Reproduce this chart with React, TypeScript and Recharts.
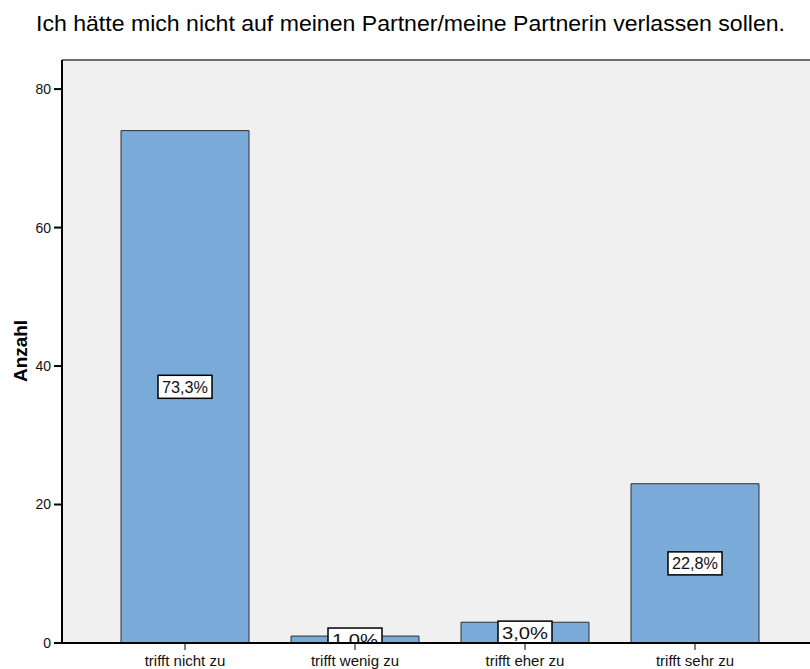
import React from 'react';
import { BarChart, Bar, XAxis, YAxis, CartesianGrid, ReferenceLine, LabelList } from 'recharts';

const categories = ['trifft nicht zu', 'trifft wenig zu', 'trifft eher zu', 'trifft sehr zu'];
const counts = [74, 1, 3, 23];
const percentLabels = ['73,3%', '1,0%', '3,0%', '22,8%'];
const yTicks = [0, 20, 40, 60, 80];
const yMax = 84.2;

const titleText = 'Ich hätte mich nicht auf meinen Partner/meine Partnerin verlassen sollen.';
const yAxisTitle = 'Anzahl';

const data = categories.map((c, i) => ({ name: c, count: counts[i], pct: percentLabels[i] }));

const FONT = '"Liberation Sans", Arial, sans-serif';

const PctLabel = (props: any) => {
  const { x, y, width, height, value, index } = props;
  const cx = x + width / 2;
  const cy = y + height / 2;
  const base = y + height;
  const w = 54;
  const h = 23;
  const id = `pct-clip-${index}`;
  return (
    <g>
      <defs>
        <clipPath id={id}>
          <rect x={cx - w} y={cy - h} width={w * 2} height={base - (cy - h) - 1} />
        </clipPath>
      </defs>
      <g clipPath={`url(#${id})`}>
        <rect x={cx - w / 2} y={cy - h / 2} width={w} height={h} fill="#ffffff" stroke="#000" strokeWidth={1.5} />
        <text x={cx} y={cy + 6} textAnchor="middle" fontFamily={FONT} fontSize={16} fill="#111"
          textLength={46} lengthAdjust="spacingAndGlyphs">{value}</text>
      </g>
    </g>
  );
};

export default function App() {
  return (
    <div style={{ position: 'absolute', left: 0, top: 0, width: 810, height: 669, overflow: 'hidden', background: '#fff' }}>
      <BarChart width={830} height={669} data={data} margin={{ top: 60, right: 10, bottom: 0, left: 0 }}>
        <CartesianGrid fill="#f0f0f0" stroke="none" horizontal={false} vertical={false} />
        <ReferenceLine y={yMax} stroke="#6e6e6e" strokeWidth={2} />
        <XAxis dataKey="name" padding={{ left: 38, right: 40 }} height={26}
          axisLine={{ stroke: '#000', strokeWidth: 2 }} tickLine={{ stroke: '#000', strokeWidth: 1 }}
          tickSize={7} tickMargin={5}
          tick={{ fontFamily: FONT, fontSize: 15, fill: '#111' }} interval={0} />
        <YAxis domain={[0, yMax]} ticks={yTicks} width={62}
          axisLine={{ stroke: '#000', strokeWidth: 2 }} tickLine={{ stroke: '#000', strokeWidth: 2 }}
          tickSize={8} tickMargin={3}
          tick={{ fontFamily: FONT, fontSize: 14, fill: '#111' }} />
        <Bar dataKey="count" barSize={128} fill="#7aaad7" stroke="#2e2e2e" strokeWidth={1} isAnimationActive={false}>
          <LabelList dataKey="pct" content={PctLabel} />
        </Bar>
      </BarChart>
      <svg width={810} height={669} style={{ position: 'absolute', left: 0, top: 0, pointerEvents: 'none' }}>
        <text x={36} y={31} fontFamily={FONT} fontSize={22} fill="#000" textLength={749} lengthAdjust="spacingAndGlyphs">{titleText}</text>
        <text transform="translate(27,351) rotate(-90)" textAnchor="middle" fontFamily={FONT} fontSize={18} fontWeight="bold" fill="#000"
          textLength={62} lengthAdjust="spacingAndGlyphs">{yAxisTitle}</text>
      </svg>
    </div>
  );
}
